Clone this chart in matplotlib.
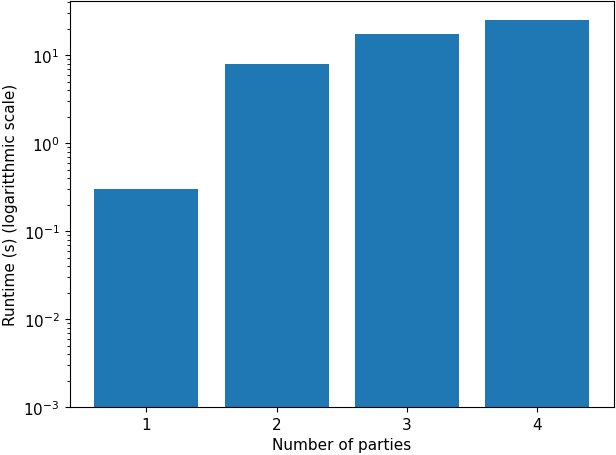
import numpy as np
import matplotlib
matplotlib.use("Agg")
import matplotlib.pyplot as plt

parties = [1, 2, 3, 4]
runtimes = [0.3, 8.0, 17.3, 25.0]   # seconds


def main():
    plt.rcParams["font.size"] = 11
    fig = plt.figure(figsize=(6.16, 4.56), dpi=100)
    ax = fig.add_axes([69.5 / 616, 48 / 456, (614 - 69.5) / 616, (408 - 2) / 456])

    ax.bar(parties, runtimes)
    ax.set_yscale("log")
    lo = 1e-3
    top = 10 ** (np.log10(max(runtimes)) + 0.05 * (np.log10(max(runtimes)) - np.log10(lo)))
    ax.set_ylim(lo, top)
    ax.set_xticks(parties)

    ax.set_xlabel("Number of parties")
    ax.set_ylabel("Runtime (s) (logaritthmic scale)")

    fig.savefig("out.png", dpi=100)


if __name__ == "__main__":
    main()
